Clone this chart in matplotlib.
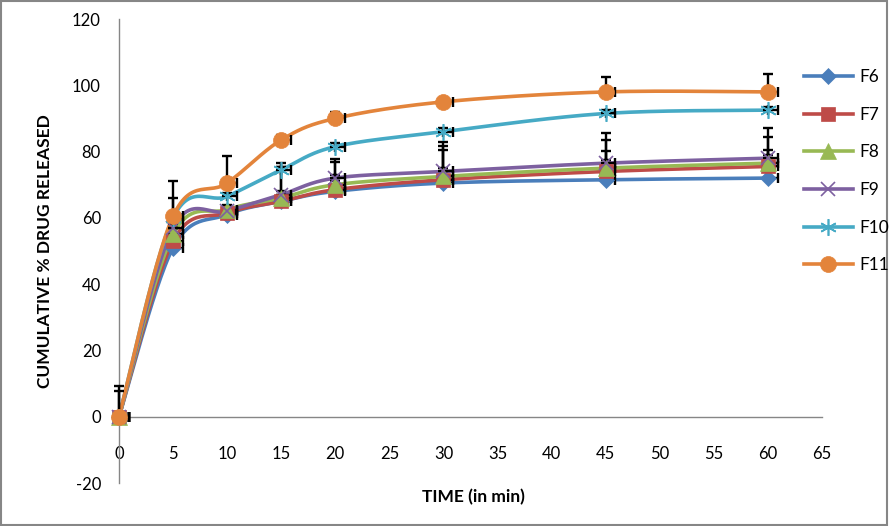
import numpy as np
import matplotlib

matplotlib.use("Agg")
import matplotlib.pyplot as plt
from matplotlib.patches import Rectangle

plt.rcParams["font.family"] = ["Lato", "DejaVu Sans"]
plt.rcParams["axes.unicode_minus"] = False

# sampling times (min)
time = [0, 5, 10, 15, 20, 30, 45, 60]

# cumulative % drug released per formulation
f6 = [0, 51, 61, 65, 68, 70.5, 71.5, 72]
f7 = [0, 53, 61.5, 65, 68.5, 71.5, 74, 75.5]
f8 = [0, 55, 62.5, 66, 70, 72.5, 75, 76.5]
f9 = [0, 57, 62, 67, 72, 74, 76.5, 78]
f10 = [0, 60, 66.5, 74.5, 81.5, 86, 91.5, 92.5]
f11 = [0, 60.5, 70.5, 83.5, 90, 95, 98, 98]

# upward error values (SD) read from the caps
f6_err = [9.3, 2, 1.5, 10.3, 8.8, 10, 8.8, 8.5]
f7_err = [7.8, 2, 1.5, 10.3, 9.2, 10.2, 9.5, 9]
f8_err = [1, 2, 1.5, 1, 1, 10.5, 10.7, 10.5]
f9_err = [1, 1, 1, 1, 1, 1, 1, 1]
f10_err = [1, 6, 1, 2, 1, 1, 1, 1]
f11_err = [1, 10.6, 8.3, 1.5, 2, 1, 4.6, 5.4]
x_err = 0.9

labels = ["F6", "F7", "F8", "F9", "F10", "F11"]
series = [f6, f7, f8, f9, f10, f11]
errors = [f6_err, f7_err, f8_err, f9_err, f10_err, f11_err]
colors = ["#4A7EBB", "#BE4B48", "#98B954", "#7D60A0", "#46AAC5", "#E3843B"]
markers = ["D", "s", "^", "x", (6, 2, 0), "o"]
msizes = [8, 10, 11, 10, 12, 11.5]


def smooth(xs, ys, sx, sy, n=30):
    # Catmull-Rom curve through the points, in screen-like units
    p = np.column_stack([np.asarray(xs, float) * sx, np.asarray(ys, float) * sy])
    p = np.vstack([p[0], p, p[-1]])
    out = []
    t = np.linspace(0, 1, n)[:, None]
    for i in range(1, len(p) - 2):
        p0, p1, p2, p3 = p[i - 1], p[i], p[i + 1], p[i + 2]
        seg = 0.5 * ((2 * p1) + (-p0 + p2) * t + (2 * p0 - 5 * p1 + 4 * p2 - p3) * t**2
                     + (-p0 + 3 * p1 - 3 * p2 + p3) * t**3)
        out.append(seg)
    c = np.vstack(out)
    return c[:, 0] / sx, c[:, 1] / sy


fig = plt.figure(figsize=(8.89, 5.26), dpi=100)
ax = fig.add_axes([119 / 889, 1 - 483 / 526, (822 - 119) / 889, (483 - 19) / 526])
ax.set_xlim(0, 65)
ax.set_ylim(-20, 120)

sx = 703 / 65
sy = 464 / 140

for ys, err, lab, col, mk, ms in zip(series, errors, labels, colors, markers, msizes):
    cx, cy = smooth(time, ys, sx, sy)
    ax.plot(cx, cy, color=col, lw=2.6, clip_on=False, zorder=3)
    ax.errorbar(time, ys, yerr=[np.zeros(len(err)), err], xerr=[np.zeros(len(time)), [x_err] * len(time)],
                fmt="none", ecolor="black", elinewidth=1.7, capsize=3.8, capthick=1.7, zorder=4, clip_on=False)
    mew = 1.2 if mk in ("x", (6, 2, 0)) else 0.5
    ax.plot(time, ys, linestyle="none", marker=mk, markersize=ms, color=col, markeredgecolor=col,
            markeredgewidth=mew, clip_on=False, zorder=5)
    ax.plot([], [], color=col, lw=2.6, marker=mk, markersize=ms, markeredgewidth=mew, label=lab)

for s in ["top", "right"]:
    ax.spines[s].set_visible(False)
ax.spines["left"].set_position(("data", 0))
ax.spines["bottom"].set_position(("data", 0))
ax.spines["left"].set_color("#868686")
ax.spines["bottom"].set_color("#868686")
ax.spines["left"].set_linewidth(1.0)
ax.spines["bottom"].set_linewidth(1.0)

ax.set_xticks(range(0, 66, 5))
ax.set_yticks(range(-20, 121, 20))
ax.tick_params(axis="y", length=0, pad=13, labelsize=12)
ax.tick_params(axis="x", length=0, pad=21, labelsize=12)

fig.text(45 / 889, 1 - 251 / 526, "CUMULATIVE % DRUG RELEASED", rotation=90, ha="center", va="center",
         fontsize=12.5, fontweight="bold")
fig.text(473 / 889, 1 - 497 / 526, "TIME (in min)", ha="center", va="center", fontsize=12.5, fontweight="bold")

fig.legend(loc="upper left", bbox_to_anchor=(797 / 889, 1 - 62 / 526), frameon=False, fontsize=12.5,
           handlelength=2.8, labelspacing=1.25, handletextpad=0.4, borderaxespad=0)

fig.patches.append(Rectangle((0.001, 0.001), 0.997, 0.997, transform=fig.transFigure, fill=False,
                             edgecolor="#868686", lw=1.5))

fig.savefig("out.png", dpi=100)
